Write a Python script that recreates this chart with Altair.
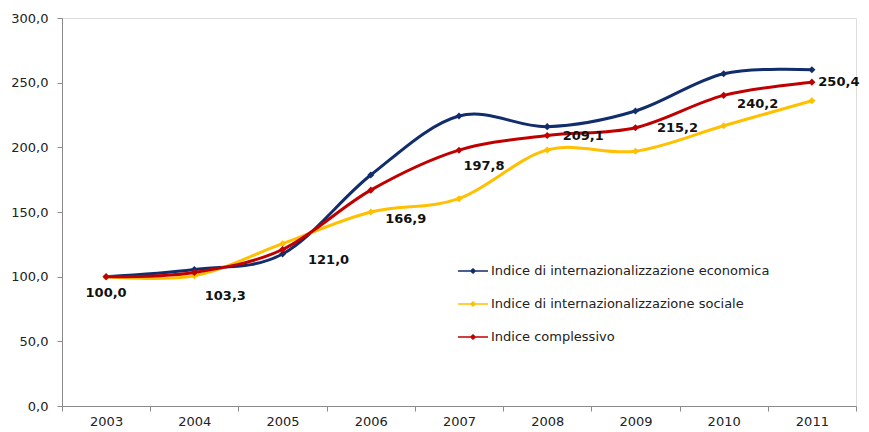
import altair as alt
import pandas as pd

years = ["2003", "2004", "2005", "2006", "2007", "2008", "2009", "2010", "2011"]
economica = [100.0, 105.5, 117.5, 178.6, 224.2, 216.0, 228.1, 256.9, 260.0]
sociale = [100.0, 100.7, 125.5, 150.0, 160.3, 198.0, 197.0, 216.7, 236.0]
complessivo = [100.0, 103.3, 121.0, 166.9, 197.8, 209.1, 215.2, 240.2, 250.4]

series_names = [
    "Indice di internazionalizzazione economica",
    "Indice di internazionalizzazione sociale",
    "Indice complessivo",
]
series_colors = ["#112d6b", "#ffc000", "#c00000"]

rows = []
for name, vals in zip(series_names, [economica, sociale, complessivo]):
    for y, v in zip(years, vals):
        rows.append({"anno": y, "valore": v, "serie": name})
df = pd.DataFrame(rows)

# label placement offsets (pixels) for the data labels of the composite index
LABEL_OFFSETS = {
    "2003": (0, 16), "2004": (31, 24), "2005": (46, 10), "2006": (35, 29),
    "2007": (25, 16), "2008": (36, 0), "2009": (42, 0), "2010": (34, 9),
    "2011": (27, 0),
}

FONT = "DejaVu Sans"

legend_path = ("M-1,-0.05L1,-0.05L1,0.05L-1,0.05Z "
               "M-0.22,0L0,-0.2L0.22,0L0,0.2Z")

x_enc = alt.X(
    "anno:N", title=None, sort=years,
    scale=alt.Scale(paddingInner=0, paddingOuter=0),
    axis=alt.Axis(labelAngle=0, tickBand="extent", tickSize=5, labelPadding=4,
                  domainColor="#8a8a8a", tickColor="#8a8a8a",
                  labelFont=FONT, labelFontSize=13, labelColor="#222"),
)
y_enc = alt.Y(
    "valore:Q", title=None,
    scale=alt.Scale(domain=[0, 300], nice=False),
    axis=alt.Axis(values=[0, 50, 100, 150, 200, 250, 300], grid=False,
                  tickSize=5, labelPadding=9,
                  domainColor="#8a8a8a", tickColor="#8a8a8a",
                  labelFont=FONT, labelFontSize=13, labelColor="#222",
                  labelExpr="replace(format(datum.value, '.1f'), '.', ',')"),
)
color_enc = alt.Color(
    "serie:N", sort=series_names,
    scale=alt.Scale(domain=series_names, range=series_colors),
    legend=alt.Legend(
        title=None, orient="none", legendX=396, legendY=238,
        symbolType=legend_path, symbolSize=900, symbolStrokeWidth=0,
        symbolOpacity=1, labelFont=FONT, labelFontSize=13, labelColor="#222",
        labelOffset=3, rowPadding=11, padding=0, labelLimit=400,
    ),
)

layers = []
for name in series_names:
    base = alt.Chart(df).transform_filter(alt.datum.serie == name)
    layers.append(
        base.mark_line(interpolate="cardinal", strokeWidth=3).encode(
            x=x_enc, y=y_enc, color=color_enc)
    )
    layers.append(
        base.mark_point(shape="diamond", filled=True, size=50, opacity=1).encode(
            x=x_enc, y=y_enc, color=alt.Color("serie:N", sort=series_names,
                                              scale=alt.Scale(domain=series_names, range=series_colors),
                                              legend=None))
    )

lab_df = pd.DataFrame({"anno": years, "valore": complessivo})
for yr, (dx, dy) in LABEL_OFFSETS.items():
    layers.append(
        alt.Chart(lab_df)
        .transform_filter(alt.datum.anno == yr)
        .transform_calculate(lab="replace(format(datum.valore, '.1f'), '.', ',')")
        .mark_text(font=FONT, fontSize=13, fontWeight="bold", color="#111",
                   align="center", baseline="middle", dx=dx, dy=dy)
        .encode(x=x_enc, y=y_enc, text="lab:N")
    )

chart = (
    alt.layer(*layers)
    .properties(
        width=794, height=388,
        autosize=alt.AutoSizeParams(type="none"),
        padding={"left": 54, "top": 10, "right": 5, "bottom": 26},
    )
    .configure_view(stroke=None)
    .configure(background="white")
)

chart.save("out.html", embed_options={"renderer": "svg", "actions": False})
